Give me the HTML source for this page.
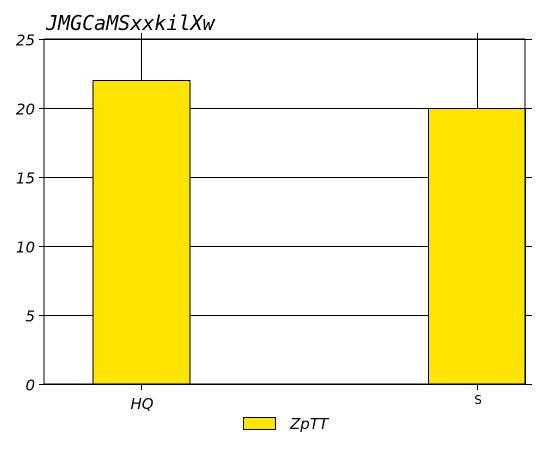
<!DOCTYPE html>
<html><head><meta charset="utf-8"><style>
body{margin:0;background:#fff}
svg{display:block}
</style></head><body>
<svg id="chart" width="546" height="468" xmlns="http://www.w3.org/2000/svg">
<text x="46" y="30" font-family="'DejaVu Sans Mono','Liberation Mono',monospace" font-style="italic" font-size="20">JMGCaMSxxkilXw</text>
<g id="grid"></g>
<g id="bars"></g>
<rect x="44" y="39" width="481" height="345" fill="none" stroke="#000" stroke-width="1"/>
<g id="axes"></g>
<g>
<rect x="243.5" y="417.5" width="32" height="12" fill="#ffe400" stroke="#000"/>
<text x="290" y="429" font-family="'DejaVu Sans',sans-serif" font-style="italic" font-size="15">ZpTT</text>
</g>
</svg>
<script>
const categories = ["HQ", "S"];
const values = [22, 20];
const yTicks = [0, 5, 10, 15, 20, 25];
const NS = "http://www.w3.org/2000/svg";
const x0 = 44, x1 = 525, yTop = 39, yBot = 384, yMax = 25;
const y = v => yBot - (v / yMax) * (yBot - yTop);
const centers = [141, 477];
const bw = 97;
function mk(tag, attrs, parent) { const e = document.createElementNS(NS, tag); for (const k in attrs) e.setAttribute(k, attrs[k]); parent.appendChild(e); return e; }
const grid = document.getElementById('grid'), bars = document.getElementById('bars'), axes = document.getElementById('axes');
yTicks.forEach(t => {
  const yy = Math.round(y(t)) + 0.5;
  const l = mk('line', {x1: 39, x2: 532, y1: yy, y2: yy, stroke: '#000', 'stroke-width': 1}, grid);
  
  
  const tx = mk('text', {x: 35, y: yy + 6, 'text-anchor': 'end', 'font-family': "'DejaVu Sans',sans-serif", 'font-style': 'italic', 'font-size': 15}, axes);
  tx.textContent = t;
  
  
});
categories.forEach((c, i) => {
  const cx = centers[i];
  const ln = mk('line', {x1: cx + 0.5, x2: cx + 0.5, y1: 33, y2: y(values[i]), stroke: '#000'}, grid);
  
  
  const r = mk('rect', {x: Math.min(cx - bw / 2, x1 - bw) + 0.5, y: Math.round(y(values[i])) + 0.5, width: bw, height: yBot - Math.round(y(values[i])), fill: '#ffe400', stroke: '#000'}, bars);
  
  
  const tk = mk('line', {x1: cx + 0.5, x2: cx + 0.5, y1: yBot, y2: 390, stroke: '#000'}, axes);
  
  
  const small = c.length === 1;
  const t = mk('text', {x: cx + 1, y: small ? 404 : 409, 'text-anchor': 'middle', 'font-family': "'DejaVu Sans',sans-serif", 'font-style': small ? 'normal' : 'italic', 'font-size': small ? 12 : 15}, axes);
  t.textContent = c;
  
  
});
</script>
</body></html>
